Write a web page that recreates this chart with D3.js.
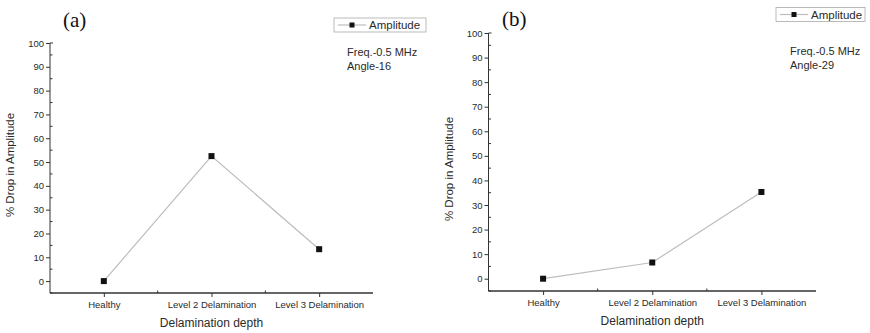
<!DOCTYPE html>
<html>
<head>
<meta charset="utf-8">
<script src="https://cdn.jsdelivr.net/npm/d3@7"></script>
<style>
  body { margin: 0; background: #fff; }
  svg { display: block; font-family: "Liberation Sans", Arial, sans-serif; }
</style>
</head>
<body>
<svg id="chart" width="870" height="333"></svg>
<script>
// data
var categories = ["Healthy", "Level 2 Delamination", "Level 3 Delamination"];
var dropA = [0, 52.5, 13.4];
var dropB = [0, 6.6, 35.3];
var yTicks = [0, 10, 20, 30, 40, 50, 60, 70, 80, 90, 100];
var panelLabels = ["(a)", "(b)"];
var infoA = ["Freq.-0.5 MHz", "Angle-16"];
var infoB = ["Freq.-0.5 MHz", "Angle-29"];
var seriesName = "Amplitude";

var svg = d3.select("#chart");
var textCol = "#2a2a2a", lineCol = "#bdbdbd", axisCol = "#333";

function drawPanel(p) {
  var g = svg.append("g");
  var x = d3.scaleLinear().domain([0.5, 3.5]).range([p.left, p.right]);
  var y = d3.scaleLinear().domain([-5, 100]).range([p.bottom, p.top]);

  // y axis
  g.append("g")
    .attr("transform", "translate(" + p.left + ",0)")
    .call(d3.axisLeft(y).tickValues(yTicks).tickSize(4).tickPadding(2))
    .call(function(a) {
      a.select(".domain").attr("stroke", axisCol).attr("d", "M0," + y(-5) + "V" + y(100));
      a.selectAll("line").attr("stroke", axisCol);
      a.selectAll("text").attr("font-size", 9.5).attr("fill", textCol);
    });
  // minor y ticks (inside)
  g.selectAll(".ym").data(d3.range(-5, 100, 10)).join("line")
    .attr("x1", p.left).attr("x2", p.left + 2.5)
    .attr("y1", function(d) { return y(d); }).attr("y2", function(d) { return y(d); })
    .attr("stroke", axisCol);
  g.append("line").attr("x1", p.left).attr("x2", p.left + 3)
    .attr("y1", y(100)).attr("y2", y(100)).attr("stroke", axisCol);

  // x axis
  g.append("g")
    .attr("transform", "translate(0," + p.bottom + ")")
    .call(d3.axisBottom(x).tickValues([1, 2, 3]).tickSize(4).tickPadding(4)
      .tickFormat(function(d) { return categories[d - 1]; }))
    .call(function(a) {
      a.select(".domain").attr("stroke", axisCol).attr("stroke-width", 1.3)
        .attr("d", "M" + p.left + ",0H" + p.right);
      a.selectAll("line").attr("stroke", axisCol);
      a.selectAll("text").attr("font-size", 9.5).attr("fill", textCol);
    });
  g.selectAll(".xm").data([1.5, 2.5]).join("line")
    .attr("x1", function(d) { return x(d); }).attr("x2", function(d) { return x(d); })
    .attr("y1", p.bottom).attr("y2", p.bottom - 2.5).attr("stroke", axisCol);

  // series
  var line = d3.line().x(function(d, i) { return x(i + 1); }).y(function(d) { return y(d); });
  g.append("path").datum(p.values)
    .attr("fill", "none").attr("stroke", lineCol).attr("stroke-width", 1.2).attr("d", line);
  g.selectAll(".pt").data(p.values).join("rect")
    .attr("x", function(d, i) { return x(i + 1) - 3; })
    .attr("y", function(d) { return y(d) - 3; })
    .attr("width", 6).attr("height", 6).attr("fill", "#111");

  // titles
  g.append("text").attr("x", (p.left + p.right) / 2).attr("y", p.bottom + 34)
    .attr("text-anchor", "middle").attr("font-size", 12).attr("fill", textCol)
    .text("Delamination depth");
  g.append("text")
    .attr("transform", "translate(" + p.ytx + "," + p.yty + ") rotate(-90)")
    .attr("text-anchor", "middle").attr("font-size", 11.5).attr("fill", textCol)
    .text("% Drop in Amplitude");
  g.append("text").attr("x", p.labX).attr("y", p.labY)
    .attr("font-family", "'Liberation Serif', 'Times New Roman', serif")
    .attr("font-size", 21).attr("fill", "#111").text(p.label);

  // legend
  g.append("rect").attr("x", p.legX).attr("y", p.legY).attr("width", p.legW).attr("height", 14)
    .attr("fill", "#fff").attr("stroke", "#aaa").attr("stroke-width", 0.8);
  g.append("line").attr("x1", p.legX + 4).attr("x2", p.legX + 32)
    .attr("y1", p.legY + 7).attr("y2", p.legY + 7).attr("stroke", lineCol).attr("stroke-width", 1.2);
  g.append("rect").attr("x", p.legX + 15.5).attr("y", p.legY + 4.5)
    .attr("width", 5).attr("height", 5).attr("fill", "#111");
  g.append("text").attr("x", p.legX + 35).attr("y", p.legY + 11)
    .attr("font-size", 11.5).attr("fill", textCol).text(seriesName);

  g.selectAll(".info").data(p.info).join("text")
    .attr("x", p.infoX).attr("y", function(d, i) { return p.infoY + i * 13.5; })
    .attr("font-size", 11).attr("fill", textCol).text(function(d) { return d; });
}

drawPanel({ values: dropA, left: 50, right: 373, top: 43, bottom: 293,
  ytx: 14, yty: 165, label: panelLabels[0], labX: 63, labY: 27,
  legX: 334, legY: 18, legW: 92, info: infoA, infoX: 347, infoY: 56 });
drawPanel({ values: dropB, left: 488.5, right: 816, top: 33, bottom: 291,
  ytx: 453, yty: 169, label: panelLabels[1], labX: 502, labY: 26,
  legX: 776, legY: 7.5, legW: 89, info: infoB, infoX: 790, infoY: 55 });
</script>
</body>
</html>
